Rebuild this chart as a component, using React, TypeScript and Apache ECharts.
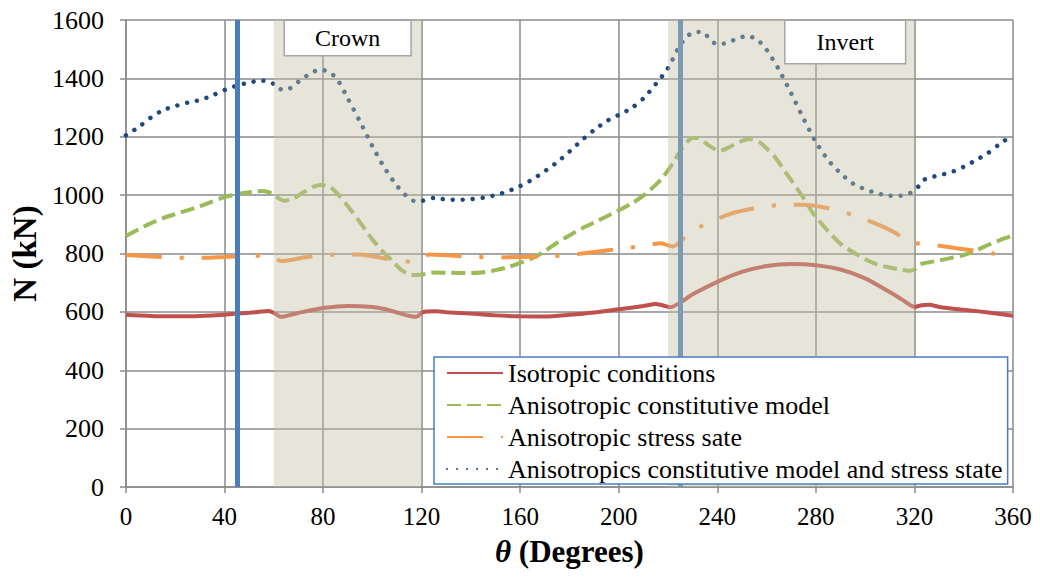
import React, { useEffect, useRef } from "react";
import * as echarts from "echarts";

const SERIF = "Liberation Serif, serif";

const seriesNames = [
  "Isotropic conditions",
  "Anisotropic constitutive model",
  "Anisotropic stress sate",
  "Anisotropics constitutive model and stress state",
];

const isoTheta = [0, 10, 20, 30, 40, 45, 50, 55, 58, 60, 63, 67, 72, 80, 90, 100, 105, 110, 114, 118, 120, 122, 126, 130, 140, 150, 160, 170, 180, 190, 200, 210, 215, 218, 221, 225, 230, 240, 250, 260, 270, 280, 290, 300, 310, 315, 320, 323, 326, 330, 340, 350, 360];
const isoN = [590, 586, 585, 586, 590, 594, 597, 601, 603, 597, 583, 590, 600, 613, 620, 617, 610, 598, 588, 583, 597, 601, 602, 599, 594, 588, 585, 584, 590, 598, 609, 620, 627, 622, 616, 632, 660, 703, 737, 757, 764, 760, 745, 715, 668, 642, 617, 623, 624, 617, 607, 598, 587];

const acmTheta = [0, 5, 10, 15, 20, 25, 30, 35, 40, 45, 50, 55, 58, 60, 64, 68, 72, 76, 79, 83, 86, 90, 95, 100, 105, 108, 112, 116, 120, 125, 130, 140, 145, 150, 155, 160, 165, 170, 175, 180, 185, 190, 195, 200, 205, 210, 215, 218, 222, 226, 230, 232, 235, 238, 241, 245, 249, 253, 257, 260, 263, 268, 274, 279, 285, 290, 295, 300, 305, 310, 315, 318, 320, 322, 326, 330, 335, 340, 345, 350, 355, 360];
const acmN = [860, 882, 903, 921, 935, 948, 962, 978, 993, 1003, 1010, 1014, 1010, 1000, 981, 988, 1010, 1028, 1035, 1027, 1004, 963, 907, 848, 800, 776, 742, 726, 728, 735, 734, 733, 736, 743, 753, 768, 784, 808, 837, 862, 886, 906, 927, 948, 970, 998, 1035, 1062, 1110, 1165, 1196, 1196, 1180, 1162, 1152, 1165, 1182, 1192, 1182, 1160, 1135, 1075, 1003, 936, 876, 833, 805, 780, 762, 752, 744, 741, 745, 762, 770, 776, 785, 795, 810, 830, 847, 862];

const assTheta = [0, 10, 20, 30, 40, 50, 57, 60, 63, 67, 72, 78, 85, 95, 105, 112, 117, 120, 123, 130, 140, 150, 160, 170, 180, 190, 200, 210, 217, 220, 222, 225, 228, 235, 245, 255, 265, 275, 285, 295, 305, 312, 318, 322, 325, 333, 344, 352, 360];
const assN = [795, 790, 786, 785, 788, 792, 793, 785, 774, 778, 786, 793, 796, 797, 783, 775, 770, 780, 797, 794, 789, 786, 788, 790, 795, 805, 815, 826, 835, 828, 824, 840, 868, 900, 935, 955, 966, 967, 955, 932, 900, 872, 838, 834, 833, 823, 810, 800, 792];

const bothTheta = [0, 5, 10, 15, 20, 25, 30, 35, 40, 45, 50, 55, 58, 60, 62, 65, 70, 75, 79, 83, 86, 90, 95, 100, 105, 110, 115, 118, 120, 125, 130, 135, 140, 145, 150, 155, 160, 165, 170, 175, 180, 185, 190, 195, 200, 205, 210, 215, 220, 225, 230, 234, 237, 240, 244, 248, 252, 256, 260, 265, 270, 275, 280, 285, 290, 295, 300, 305, 310, 314, 318, 321, 324, 328, 332, 336, 340, 345, 350, 355, 360];
const bothN = [1205, 1232, 1265, 1291, 1305, 1317, 1326, 1341, 1360, 1375, 1386, 1392, 1391, 1380, 1365, 1360, 1388, 1418, 1430, 1419, 1394, 1332, 1252, 1168, 1093, 1032, 988, 978, 980, 990, 985, 984, 986, 991, 1000, 1013, 1031, 1054, 1082, 1113, 1149, 1188, 1223, 1253, 1275, 1297, 1331, 1380, 1435, 1515, 1557, 1559, 1534, 1516, 1522, 1536, 1545, 1534, 1498, 1430, 1348, 1262, 1182, 1120, 1075, 1040, 1020, 1006, 998, 998, 1006, 1024, 1053, 1064, 1072, 1082, 1097, 1120, 1145, 1178, 1205];

const xTicks = { min: 0, max: 360, interval: 40 };
const yTicks = { min: 0, max: 1600, interval: 200 };
const zones = [
  { name: "Crown", from: 60, to: 120 },
  { name: "Invert", from: 220, to: 320 },
];
const markerThetas = [45, 225];

const zip = (xs: number[], ys: number[]) => xs.map((x, i) => [x, ys[i]]);

const GRID = "#8a8a8a";

export default function App() {
  const ref = useRef<HTMLDivElement>(null);
  useEffect(() => {
    if (!ref.current) return;
    const chart = echarts.init(ref.current, undefined, { renderer: "svg" });
    const axisCommon = {
      type: "value",
      axisLine: { show: true, lineStyle: { color: GRID, width: 1.5 } },
      axisTick: { show: true, length: 6, lineStyle: { color: GRID, width: 1.5 } },
      splitLine: { show: true, lineStyle: { color: GRID, width: 1.5 } },
    };
    const option: any = {
      animation: false,
      backgroundColor: "#fff",
      textStyle: { fontFamily: SERIF },
      grid: { left: 124, right: 27, top: 20, bottom: 93 },
      xAxis: {
        ...axisCommon,
        ...xTicks,
        axisLabel: {
          color: "#000",
          fontSize: 25,
          fontFamily: SERIF,
          margin: 17,
          formatter: (v: number) => String(v),
        },
        name: "{t|θ} (Degrees)",
        nameLocation: "middle",
        nameGap: 49,
        nameTextStyle: {
          fontSize: 31,
          fontWeight: "bold",
          fontFamily: SERIF,
          color: "#000",
          rich: {
            t: { fontStyle: "italic", fontWeight: "bold", fontSize: 31, fontFamily: SERIF, color: "#000" },
          },
        },
      },
      yAxis: {
        ...axisCommon,
        ...yTicks,
        axisLabel: {
          color: "#000",
          fontSize: 26,
          fontFamily: SERIF,
          margin: 22,
          formatter: (v: number) => String(v),
        },
        name: "N (kN)",
        nameLocation: "middle",
        nameRotate: 90,
        nameGap: 78,
        nameTextStyle: { fontSize: 33, fontWeight: "bold", fontFamily: SERIF, color: "#000" },
      },
      legend: {
        data: seriesNames,
        orient: "vertical",
        left: 434,
        top: 357,
        itemWidth: 56,
        itemHeight: 14,
        itemGap: 6,
        padding: [3, 5, 2, 12],
        backgroundColor: "#fff",
        borderColor: "#4a7ebb",
        borderWidth: 1.5,
        borderRadius: 0,
        selectedMode: false,
        z: 20,
        itemStyle: { opacity: 0 },
        textStyle: { fontSize: 26, fontFamily: SERIF, color: "#000", lineHeight: 22 },
      },
      series: [
        {
          name: "markers",
          type: "line",
          data: [],
          silent: true,
          markLine: {
            silent: true,
            symbol: "none",
            label: { show: false },
            lineStyle: { color: "#4a7ebb", width: 5, type: "solid" },
            data: markerThetas.map((t) => ({ xAxis: t })),
          },
        },
        {
          name: seriesNames[0],
          type: "line",
          data: zip(isoTheta, isoN),
          symbol: "none",
          smooth: 0.25,
          z: 3,
          itemStyle: { color: "#c0504d" },
          lineStyle: { color: "#c0504d", width: 4 },
        },
        {
          name: seriesNames[1],
          type: "line",
          data: zip(acmTheta, acmN),
          symbol: "none",
          smooth: 0.25,
          z: 3,
          itemStyle: { color: "#9bbb59" },
          lineStyle: { color: "#9bbb59", width: 4, type: [14, 6] },
        },
        {
          name: seriesNames[2],
          type: "line",
          data: zip(assTheta, assN),
          symbol: "none",
          smooth: 0.25,
          z: 3,
          itemStyle: { color: "#f79646" },
          lineStyle: { color: "#f79646", width: 4, type: [36, 18, 4, 18] },
        },
        {
          name: seriesNames[3],
          type: "line",
          data: zip(bothTheta, bothN),
          symbol: "none",
          smooth: 0.25,
          z: 3,
          itemStyle: { color: "#1f497d" },
          lineStyle: { color: "#1f497d", width: 4.5, type: [0.01, 10], cap: "round" },
        },
        {
          name: "zones",
          type: "line",
          data: [],
          silent: true,
          z: 10,
          markArea: {
            silent: true,
            z: 10,
            itemStyle: { color: "rgba(198,193,168,0.42)" },
            data: zones.map((zn, i) => [
              {
                xAxis: zn.from,
                label: {
                  show: true,
                  formatter: zn.name,
                  position: "insideTop",
                  distance: 1,
                  offset: i === 0 ? [0, 0] : [54, 0],
                  backgroundColor: "#fff",
                  borderColor: "#a6a6a6",
                  borderWidth: 1.5,
                  padding: i === 0 ? [5, 30, 5, 30] : [9, 31, 9, 31],
                  fontSize: 24,
                  fontFamily: SERIF,
                  color: "#000",
                },
              },
              { xAxis: zn.to },
            ]),
          },
        },
      ],
    };
    chart.setOption(option);
    return () => chart.dispose();
  }, []);
  return <div ref={ref} style={{ position: "fixed", left: 0, top: 0, width: 1040, height: 580 }} />;
}
